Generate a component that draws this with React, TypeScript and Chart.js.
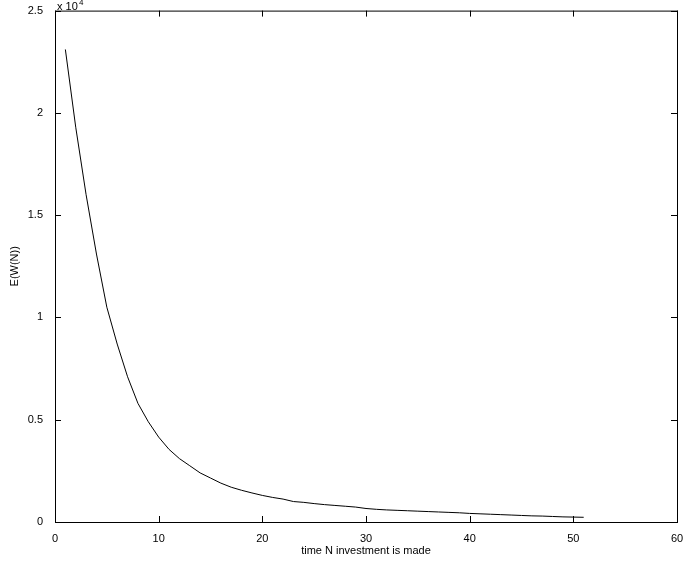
import { Chart, registerables } from 'chart.js';
import React, { useEffect, useRef } from 'react';

Chart.register(...registerables);

const timeN = [1, 2, 3, 4, 5, 6, 7, 8, 9, 10, 11, 12, 13, 14, 15, 16, 17, 18, 19, 20, 21, 22, 23, 24, 25, 26, 27, 28, 29, 30, 31, 32, 33, 34, 35, 36, 37, 38, 39, 40, 41, 42, 43, 44, 45, 46, 47, 48, 49, 50, 51];
const expectedW = [
    23100, 19300, 16000, 13100, 10500, 8700, 7100, 5800, 4900, 4150,
    3550, 3100, 2750, 2400, 2150, 1900, 1700, 1550, 1420, 1300,
    1200, 1120, 1000, 960, 900, 850, 810, 770, 730, 660,
    620, 590, 570, 550, 530, 510, 490, 470, 450, 420,
    400, 380, 360, 340, 320, 300, 290, 270, 250, 240, 230,
];
const xTicks = [0, 10, 20, 30, 40, 50, 60];
const yTicks = [0, 5000, 10000, 15000, 20000, 25000];

const FONT = 'Liberation Sans, Arial, sans-serif';

const boxPlugin = {
    id: 'matlabBox',
    afterDraw(chart: any) {
        const { ctx, chartArea: a, scales } = chart;
        ctx.save();
        ctx.strokeStyle = '#000';
        ctx.lineWidth = 1;
        ctx.strokeRect(a.left + 0.5, a.top + 0.5, a.right - a.left, a.bottom - a.top);
        const t = 6;
        ctx.beginPath();
        xTicks.forEach((v) => {
            const x = Math.round(scales.x.getPixelForValue(v)) + 0.5;
            ctx.moveTo(x, a.bottom); ctx.lineTo(x, a.bottom - t);
            ctx.moveTo(x, a.top); ctx.lineTo(x, a.top + t);
        });
        yTicks.forEach((v) => {
            const y = Math.round(scales.y.getPixelForValue(v)) + 0.5;
            ctx.moveTo(a.left, y); ctx.lineTo(a.left + t, y);
            ctx.moveTo(a.right, y); ctx.lineTo(a.right - t, y);
        });
        ctx.stroke();
        ctx.fillStyle = '#000';
        ctx.font = `11px ${FONT}`;
        ctx.textBaseline = 'alphabetic';
        ctx.fillText('x 10', a.left + 2, a.top - 1);
        ctx.font = `8px ${FONT}`;
        ctx.fillText('4', a.left + 24, a.top - 6);
        ctx.restore();
    },
};

export default function App() {
    const chartRef = useRef<HTMLCanvasElement>(null);

    useEffect(() => {
        if (!chartRef.current) return;
        const chart = new Chart(chartRef.current, {
            type: 'line',
            data: {
                labels: timeN,
                datasets: [
                    {
                        data: timeN.map((x, i) => ({ x, y: expectedW[i] })),
                        borderColor: '#000',
                        borderWidth: 1,
                        pointRadius: 0,
                        tension: 0,
                    },
                ],
            },
            options: {
                animation: false,
                responsive: false,
                layout: { padding: { top: 8, right: 13, left: 8, bottom: 0 } },
                plugins: { legend: { display: false }, tooltip: { enabled: false } },
                scales: {
                    x: {
                        type: 'linear',
                        min: 0,
                        max: 60,
                        grid: { display: false },
                        border: { display: false },
                        afterBuildTicks: (s: any) => { s.ticks = xTicks.map((v) => ({ value: v })); },
                        afterFit: (s: any) => { s.height = 36; },
                        ticks: { color: '#000', font: { family: FONT, size: 11 }, padding: 2, maxRotation: 0 },
                        title: { display: true, text: 'time N investment is made', color: '#000', font: { family: FONT, size: 11 }, padding: 0 },
                    },
                    y: {
                        min: 0,
                        max: 25000,
                        grid: { display: false },
                        border: { display: false },
                        afterBuildTicks: (s: any) => { s.ticks = yTicks.map((v) => ({ value: v })); },
                        afterFit: (s: any) => { s.width = 47; },
                        ticks: {
                            color: '#000',
                            font: { family: FONT, size: 11 },
                            padding: 4,
                            callback: (v: any) => String(Number(v) / 10000),
                        },
                        title: { display: true, text: 'E(W(N))', color: '#000', font: { family: FONT, size: 11 }, padding: 0 },
                    },
                },
            },
            plugins: [boxPlugin],
        });
        return () => chart.destroy();
    }, []);

    return (
        <div style={{ position: 'absolute', left: 0, top: 0, width: 690, height: 565, background: '#fff' }}>
            <canvas ref={chartRef} width={690} height={558} />
        </div>
    );
}
